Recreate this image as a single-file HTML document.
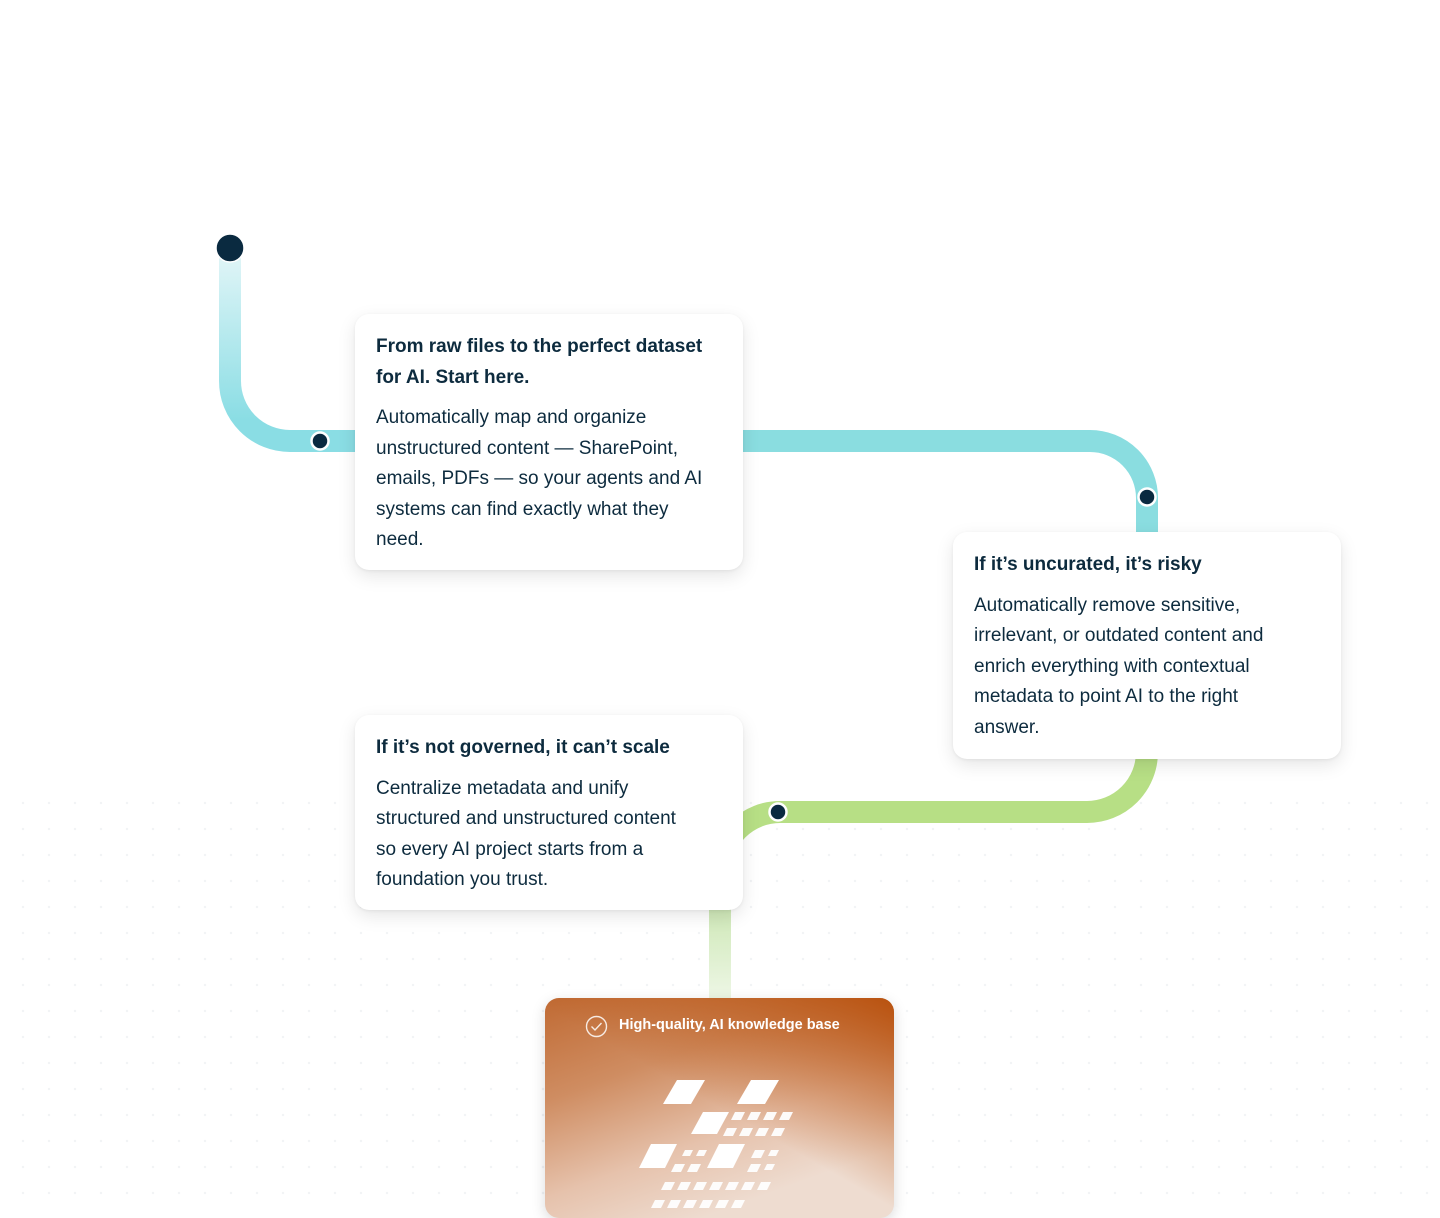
<!DOCTYPE html>
<html><head><meta charset="utf-8"><style>
*{margin:0;padding:0;box-sizing:border-box}
body{width:1440px;height:1200px;background:#fff;position:relative;overflow:hidden;font-family:"Liberation Sans",sans-serif;color:#0d2b3e}
.dots{position:absolute;left:0;top:780px;width:1440px;height:420px;background-image:radial-gradient(circle,#f1f3f5 1px,transparent 1.4px);background-size:26px 26px;background-position:10px 10px}
svg{position:absolute;left:0;top:0}
.card{position:absolute;background:#fff;border-radius:14px;box-shadow:0 6px 18px rgba(0,0,0,.10),0 1px 3px rgba(0,0,0,.06);padding:18px 21px;white-space:nowrap}
.card h3{font-size:19px;font-weight:bold;line-height:30.5px;margin-bottom:10px}
.card p{font-size:19px;line-height:30.5px}
.kb{position:absolute;left:545px;top:998px;width:349px;height:220px;border-radius:14px;overflow:hidden;background:linear-gradient(160deg,#c06a33 0%,#cf8d62 30%,#e6c2ac 58%,#eedcd0 80%),#c06a33;box-shadow:0 4px 14px rgba(0,0,0,.15)}
.kb::before{content:"";position:absolute;inset:0;background:linear-gradient(210deg,#b9520f 0%,rgba(185,82,15,0) 50%)}
.kb .t{position:absolute;left:74px;top:19px;color:#fff;font-size:14.5px;font-weight:bold}
</style></head><body>
<div class="dots"></div>
<svg width="1440" height="1200">
<defs>
<linearGradient id="g1" x1="0" y1="248" x2="0" y2="420" gradientUnits="userSpaceOnUse"><stop offset="0" stop-color="#e4f6f8"/><stop offset="1" stop-color="#8adde4"/></linearGradient>
<linearGradient id="g2" x1="0" y1="910" x2="0" y2="1000" gradientUnits="userSpaceOnUse"><stop offset="0" stop-color="#cfe8b8"/><stop offset="1" stop-color="#eef7e6"/></linearGradient>
</defs>
<path d="M230 248 V381 A60 60 0 0 0 290 441 H360" fill="none" stroke="url(#g1)" stroke-width="22"/>
<path d="M740 441 H1090 A57 57 0 0 1 1147 498 V540" fill="none" stroke="#8adde0" stroke-width="22"/>
<path d="M1147 750 V752 A60 60 0 0 1 1087 812 H780 A60 60 0 0 0 720 872" fill="none" stroke="#b7df85" stroke-width="22"/>
<path d="M720 870 V1000" fill="none" stroke="url(#g2)" stroke-width="22"/>
<circle cx="230" cy="248" r="14" fill="#0a2a40" stroke="#fff" stroke-width="1.5"/>
<circle cx="320" cy="441" r="8.5" fill="#0a2a40" stroke="#fff" stroke-width="2.5"/>
<circle cx="1147" cy="497" r="8.5" fill="#0a2a40" stroke="#fff" stroke-width="2.5"/>
<circle cx="778" cy="812" r="8.5" fill="#0a2a40" stroke="#fff" stroke-width="2.5"/>
</svg>
<div class="card" style="left:355px;top:314px;width:388px;height:256px">
<h3>From raw files to the perfect dataset<br>for AI. Start here.</h3>
<p>Automatically map and organize<br>unstructured content — SharePoint,<br>emails, PDFs — so your agents and AI<br>systems can find exactly what they<br>need.</p></div>
<div class="card" style="left:953px;top:532px;width:388px;height:227px">
<h3>If it’s uncurated, it’s risky</h3>
<p>Automatically remove sensitive,<br>irrelevant, or outdated content and<br>enrich everything with contextual<br>metadata to point AI to the right<br>answer.</p></div>
<div class="card" style="left:355px;top:715px;width:388px;height:195px">
<h3>If it’s not governed, it can’t scale</h3>
<p>Centralize metadata and unify<br>structured and unstructured content<br>so every AI project starts from a<br>foundation you trust.</p></div>
<div class="kb"><div class="t">High-quality, AI knowledge base</div>
<svg width="349" height="220" style="left:0;top:0">
<circle cx="51.5" cy="28.5" r="10" fill="none" stroke="rgba(255,255,255,.85)" stroke-width="1.4"/>
<path d="M46.5 28.5 L50 32 L56.5 25" fill="none" stroke="rgba(255,255,255,.85)" stroke-width="1.4"/>
<g fill="#fff">
<polygon points="132,82 160,82 146,106 118,106"/>
<polygon points="206,82 234,82 220,106 192,106"/>
<polygon points="158,114 184,114 172,136 146,136"/>
<polygon points="106,146 132,146 120,170 94,170"/>
<polygon points="174,146 200,146 188,170 162,170"/>
<g opacity=".95">
<polygon points="190,114 200,114 196,122 186,122"/><polygon points="206,114 216,114 212,122 202,122"/><polygon points="222,114 232,114 228,122 218,122"/><polygon points="238,114 248,114 244,122 234,122"/>
<polygon points="182,130 192,130 188,138 178,138"/><polygon points="198,130 208,130 204,138 194,138"/><polygon points="214,130 224,130 220,138 210,138"/><polygon points="230,130 240,130 236,138 226,138"/>
<polygon points="140,152 148,152 145,158 137,158"/><polygon points="154,152 162,152 159,158 151,158"/><polygon points="210,152 220,152 216,160 206,160"/><polygon points="226,152 234,152 231,158 223,158"/>
<polygon points="130,166 140,166 136,174 126,174"/><polygon points="146,166 156,166 152,174 142,174"/><polygon points="206,166 216,166 212,174 202,174"/><polygon points="222,166 230,166 227,172 219,172"/>
<polygon points="120,184 130,184 126,192 116,192"/><polygon points="136,184 146,184 142,192 132,192"/><polygon points="152,184 162,184 158,192 148,192"/><polygon points="168,184 178,184 174,192 164,192"/><polygon points="184,184 194,184 190,192 180,192"/><polygon points="200,184 210,184 206,192 196,192"/><polygon points="216,184 226,184 222,192 212,192"/>
<polygon points="110,202 120,202 116,210 106,210"/><polygon points="126,202 136,202 132,210 122,210"/><polygon points="142,202 152,202 148,210 138,210"/><polygon points="158,202 168,202 164,210 154,210"/><polygon points="174,202 184,202 180,210 170,210"/><polygon points="190,202 200,202 196,210 186,210"/>
</g></g></svg></div>
</body></html>
